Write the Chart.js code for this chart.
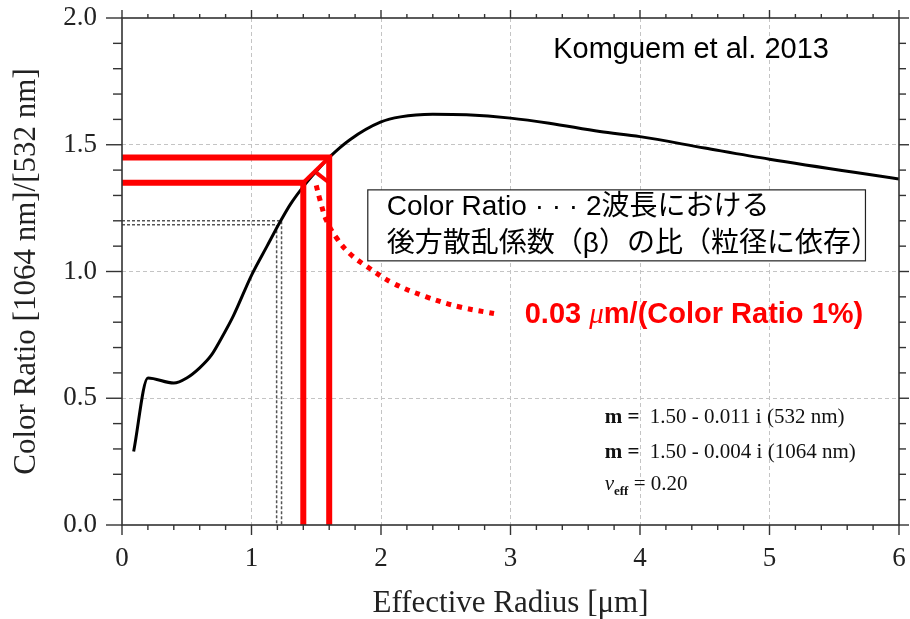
<!DOCTYPE html>
<html>
<head>
<meta charset="utf-8">
<script src="https://cdn.jsdelivr.net/npm/chart.js@4.4.1/dist/chart.umd.min.js"></script>
<style>
  html, body { margin: 0; padding: 0; background: #fff; }
  #wrap { width: 910px; height: 619px; }
</style>
</head>
<body>
<div id="wrap"><canvas id="crChart" width="910" height="619"></canvas></div>
<script>
// 有効半径 [µm] に対する Color Ratio の曲線
const radius = [0.09, 0.2, 0.4, 0.5, 0.6, 0.69, 0.76, 0.86, 1.0, 1.12, 1.22, 1.3, 1.4, 1.5, 1.6, 1.76, 2.0, 2.15, 2.4, 2.66, 3.0, 3.3, 3.69, 4.0, 4.5, 5.0, 6.0];
const colorRatio = [0.29, 0.58, 0.56, 0.58, 0.62, 0.67, 0.73, 0.825, 0.985, 1.10, 1.195, 1.265, 1.335, 1.395, 1.45, 1.52, 1.59, 1.61, 1.62, 1.618, 1.605, 1.585, 1.552, 1.532, 1.487, 1.443, 1.365];

// 赤い読み取り線（1.4 µm / 1.6 µm）
const readRadius = [1.4, 1.6];
const readRatio = [1.35, 1.45];

// 灰色の点線（読み取り例）
const grayRadius = [1.194, 1.232];
const grayRatio = [1.184, 1.2];

// 赤い点線の引き出し線
const leaderRadius = [1.50, 1.53, 1.58, 1.66, 1.76, 1.89, 2.09, 2.35, 2.61, 2.92];
const leaderRatio = [1.34, 1.28, 1.20, 1.13, 1.07, 1.02, 0.955, 0.90, 0.86, 0.83];

// 目盛り
const xTicks = [0, 1, 2, 3, 4, 5, 6];
const yTicks = [0, 0.5, 1.0, 1.5, 2.0];

const SERIF = '"Liberation Serif", "Times New Roman", serif';
const SANS = '"Liberation Sans", "Noto Sans CJK JP", sans-serif';

function lShape(r, cr) {
  return [{x: 0, y: cr}, {x: r, y: cr}, {x: r, y: 0}];
}

const datasets = [];

// 赤い読み取り線
readRadius.forEach(function (r, i) {
  datasets.push({
    data: lShape(r, readRatio[i]),
    borderColor: "#ff0000",
    borderWidth: 6,
    pointRadius: 0,
  });
});

// 赤い三角印
datasets.push({
  data: [{x: readRadius[0], y: readRatio[0]}, {x: readRadius[1], y: readRatio[1]}],
  borderColor: "#ff0000", borderWidth: 4, pointRadius: 0,
});
datasets.push({
  data: [{x: (readRadius[0] + readRadius[1]) / 2, y: 1.39}, {x: readRadius[1], y: readRatio[0]}],
  borderColor: "#ff0000", borderWidth: 4, pointRadius: 0,
});

// 引き出し線
datasets.push({
  data: leaderRadius.map(function (r, i) { return {x: r, y: leaderRatio[i]}; }),
  borderColor: "#ff0000",
  borderWidth: 5,
  borderDash: [5, 6],
  pointRadius: 0,
  tension: 0.4,
});

// 本体の曲線
datasets.push({
  data: radius.map(function (r, i) { return {x: r, y: colorRatio[i]}; }),
  borderColor: "#000",
  borderWidth: 3,
  pointRadius: 0,
  cubicInterpolationMode: "monotone",
});

// 灰色の点線
grayRadius.forEach(function (r, i) {
  datasets.push({
    data: lShape(r, grayRatio[i]),
    borderColor: "#555",
    borderWidth: 1.5,
    borderDash: [3, 2],
    pointRadius: 0,
  });
});

function isMajorX(v) { return xTicks.some(function (t) { return Math.abs(t - v) < 1e-6; }); }
function isMajorY(v) { return yTicks.some(function (t) { return Math.abs(t - v) < 1e-6; }); }

// 枠・外向き目盛り・注記
const frameAndNotes = {
  id: "frameAndNotes",
  afterDraw(chart) {
    const ctx = chart.ctx;
    const a = chart.chartArea;
    const x = chart.scales.x;
    const y = chart.scales.y;

    function seg(x1, y1, x2, y2) {
      ctx.beginPath(); ctx.moveTo(x1, y1); ctx.lineTo(x2, y2); ctx.stroke();
    }
    function at(xv, yv) { return [x.getPixelForValue(xv), y.getPixelForValue(yv)]; }
    // 文字列を順に並べて描く
    function runs(px, py, parts) {
      let cx = px;
      parts.forEach(function (pt) {
        ctx.font = pt[0];
        ctx.fillText(pt[1], cx, py + (pt[2] || 0));
        cx += ctx.measureText(pt[1]).width;
      });
    }

    ctx.save();
    ctx.strokeStyle = "#333";
    ctx.lineWidth = 1.6;
    ctx.setLineDash([]);
    ctx.strokeRect(a.left, a.top, a.right - a.left, a.bottom - a.top);

    ctx.lineWidth = 1.4;
    for (let i = 0; i <= 30; i++) {
      const v = i * 0.2;
      const px = x.getPixelForValue(v);
      const major = isMajorX(v);
      seg(px, a.bottom, px, a.bottom + (major ? 10 : 5));
      seg(px, a.top, px, a.top - (major ? 8 : 4));
    }
    for (let i = 0; i <= 20; i++) {
      const v = i * 0.1;
      const py = y.getPixelForValue(v);
      const major = isMajorY(v);
      seg(a.left, py, a.left - (major ? 16 : 9), py);
      seg(a.right, py, a.right + (major ? 10 : 7), py);
    }

    ctx.textBaseline = "alphabetic";
    ctx.textAlign = "left";

    // 出典
    let p = at(3.33, 1.843);
    ctx.fillStyle = "#000";
    ctx.font = "29px " + SANS;
    ctx.fillText("Komguem et al. 2013", p[0], p[1]);

    // 説明の枠
    const b1 = at(1.898, 1.322);
    const b2 = at(5.741, 1.042);
    ctx.fillStyle = "#fff";
    ctx.fillRect(b1[0], b1[1], b2[0] - b1[0], b2[1] - b1[1]);
    ctx.strokeStyle = "#222";
    ctx.lineWidth = 1.2;
    ctx.strokeRect(b1[0], b1[1], b2[0] - b1[0], b2[1] - b1[1]);
    ctx.fillStyle = "#000";
    ctx.font = "28px " + SANS;
    p = at(2.045, 1.223);
    ctx.fillText("Color Ratio · · · 2波長における", p[0], p[1]);
    p = at(2.045, 1.077);
    ctx.fillText("後方散乱係数（β）の比（粒径に依存）", p[0], p[1]);

    // 赤字
    ctx.fillStyle = "#ff0000";
    p = at(3.11, 0.797);
    runs(p[0], p[1], [
      ["bold 29px " + SANS, "0.03 "],
      ["italic 29px " + SERIF, "μ"],
      ["bold 29px " + SANS, "m/(Color Ratio 1%)"],
    ]);

    // 屈折率など
    ctx.fillStyle = "#111";
    const lines = [
      [0.4025, "1.50 - 0.011 i (532 nm)"],
      [0.264, "1.50 - 0.004 i (1064 nm)"],
    ];
    lines.forEach(function (l) {
      const q = at(3.727, l[0]);
      runs(q[0], q[1], [
        ["bold 21px " + SERIF, "m =  "],
        ["21px " + SERIF, l[1]],
      ]);
    });
    p = at(3.727, 0.138);
    runs(p[0], p[1], [
      ["italic 21px " + SERIF, "v"],
      ["bold 13px " + SERIF, "eff", 5],
      ["21px " + SERIF, " = 0.20"],
    ]);

    ctx.restore();
  },
};

function gridColor(lo, hi) {
  return function (c) {
    const v = c.tick ? c.tick.value : lo;
    return v > lo + 0.01 && v < hi - 0.01 ? "#c4c4c4" : "rgba(0,0,0,0)";
  };
}

new Chart(document.getElementById("crChart").getContext("2d"), {
  type: "line",
  data: { datasets: datasets },
  plugins: [frameAndNotes],
  options: {
    responsive: false,
    animation: false,
    layout: { padding: { left: 0, right: 11, top: 18, bottom: 0 } },
    plugins: { legend: { display: false }, tooltip: { enabled: false } },
    scales: {
      x: {
        type: "linear",
        min: 0,
        max: 6,
        afterFit: function (s) {
          s.height = 94;
          s.paddingLeft = 0; s.paddingRight = 0;
        },
        afterBuildTicks: function (s) { s.ticks = xTicks.map(function (v) { return {value: v}; }); },
        ticks: {
          padding: 18,
          maxRotation: 0,
          color: "#222",
          font: { family: SERIF, size: 27 },
          callback: function (v) { return String(v); },
        },
        grid: { drawTicks: false, lineWidth: 1, color: gridColor(0, 6) },
        border: { display: false, dash: [4, 3] },
        title: {
          display: true,
          text: "Effective Radius [μm]",
          color: "#222",
          font: { family: SERIF, size: 31, lineHeight: 1.0 },
          padding: { top: 0, bottom: 0 },
        },
      },
      y: {
        type: "linear",
        min: 0,
        max: 2,
        afterFit: function (s) {
          s.width = 122;
          s.paddingTop = 0; s.paddingBottom = 0;
        },
        afterBuildTicks: function (s) { s.ticks = yTicks.map(function (v) { return {value: v}; }); },
        ticks: {
          padding: 25,
          color: "#222",
          font: { family: SERIF, size: 27 },
          callback: function (v) { return Number(v).toFixed(1); },
        },
        grid: { drawTicks: false, lineWidth: 1, color: gridColor(0, 2) },
        border: { display: false, dash: [4, 3] },
        title: {
          display: true,
          text: "Color Ratio [1064 nm]/[532 nm]",
          color: "#222",
          font: { family: SERIF, size: 31 },
          padding: { top: 8, bottom: 0 },
        },
      },
    },
  },
});
</script>
</body>
</html>
